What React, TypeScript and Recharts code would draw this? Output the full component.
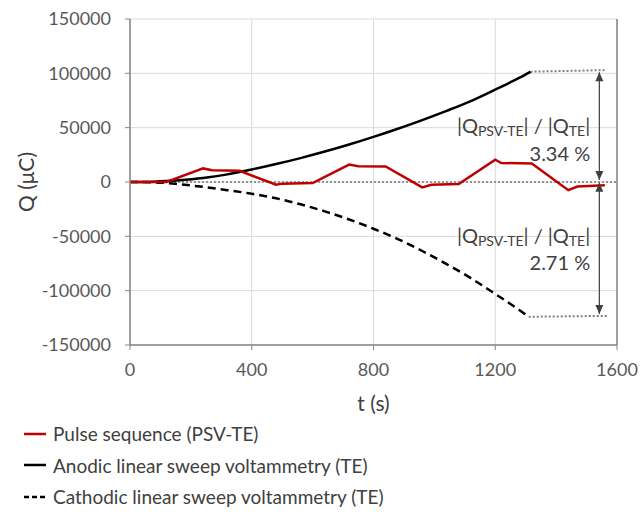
import React from "react";
import {
  LineChart,
  Line,
  XAxis,
  YAxis,
  CartesianGrid,
  ReferenceLine,
  ReferenceDot,
  Legend,
} from "recharts";

// Pulse sequence (PSV-TE)
const pulseT = [0, 120, 240, 270, 360, 480, 500, 600, 720, 750, 840, 960, 990, 1080, 1200, 1220, 1320, 1440, 1470, 1560];
const pulseQ = [0, 0, 12500, 10800, 10300, -2500, -1500, -1000, 16000, 14500, 14300, -5000, -2500, -1800, 20500, 17500, 17000, -7500, -4200, -3000];

// Anodic LSV (TE)
const anodicT = [0, 80, 160, 240, 320, 400, 480, 560, 640, 720, 800, 880, 960, 1040, 1120, 1200, 1280, 1316];
const anodicQ = [0, 300, 1500, 3600, 7000, 11500, 16500, 22000, 28000, 34500, 41500, 49000, 57000, 65500, 74500, 85000, 96000, 101500];

// Cathodic LSV (TE)
const cathodicT = [0, 80, 160, 240, 320, 400, 480, 560, 640, 720, 800, 880, 960, 1040, 1120, 1200, 1280, 1310];
const cathodicQ = [0, -300, -2000, -4500, -7500, -10800, -15000, -20500, -27000, -34500, -43000, -52500, -63500, -75500, -88500, -103000, -118000, -124000];

// gray dotted extensions of the end values
const anodicExtT = [1316, 1565];
const anodicExtQ = [101500, 103000];
const cathodicExtT = [1310, 1570];
const cathodicExtQ = [-124000, -123200];

// double arrows (t, from, to)
const arrowT = 1542;
const upperArrowQ = [101000, 1800];
const lowerArrowQ = [-600, -121500];

// ratio annotations
const ratioT = 1512;
const ratioTitleQ = [45000, -56500];
const ratioValueQ = [19000, -81000];
const ratioValues = ["3.34 %", "2.71 %"];

const xTicks = [0, 400, 800, 1200, 1600];
const yTicks = [-150000, -100000, -50000, 0, 50000, 100000, 150000];

const legendLabels = [
  "Pulse sequence (PSV-TE)",
  "Anodic linear sweep voltammetry (TE)",
  "Cathodic linear sweep voltammetry (TE)",
];
const legendColors = ["#c00000", "#000000", "#000000"];
const legendDash = ["", "", "5 3"];

const toPoints = (ts: number[], qs: number[]) => ts.map((t, i) => ({ t, q: qs[i] }));

const pulseData = toPoints(pulseT, pulseQ);
const anodicData = toPoints(anodicT, anodicQ);
const cathodicData = toPoints(cathodicT, cathodicQ);
const anodicExt = toPoints(anodicExtT, anodicExtQ);
const cathodicExt = toPoints(cathodicExtT, cathodicExtQ);
const upperArrow = [
  { t: arrowT, q: upperArrowQ[0], dir: "up" },
  { t: arrowT, q: upperArrowQ[1], dir: "down" },
];
const lowerArrow = [
  { t: arrowT, q: lowerArrowQ[0], dir: "up" },
  { t: arrowT, q: lowerArrowQ[1], dir: "down" },
];

const TEXT = "#404040";
const TICK = "#595959";
const FONT = "Lato, 'Noto Sans', sans-serif";

// triangle heads for the arrows
const ArrowHead = (props: any) => {
  const { cx, cy, payload, index } = props;
  if (cx == null || cy == null) return <g key={index} />;
  const h = 9;
  const w = 4;
  const d =
    payload.dir === "up"
      ? `M${cx},${cy} L${cx - w},${cy + h} L${cx + w},${cy + h} Z`
      : `M${cx},${cy} L${cx - w},${cy - h} L${cx + w},${cy - h} Z`;
  return <path key={index} d={d} fill="#404040" stroke="none" />;
};

const RatioTitle = (props: any) => {
  const { cx, cy } = props;
  return (
    <text x={cx} y={cy} textAnchor="end" fontSize={20} fill={TEXT} fontFamily={FONT}>
      |Q
      <tspan fontSize={14} dy={3}>PSV-TE</tspan>
      <tspan dy={-3}>| / |Q</tspan>
      <tspan fontSize={14} dy={3}>TE</tspan>
      <tspan dy={-3}>|</tspan>
    </text>
  );
};

const makeRatioValue = (txt: string) => (props: any) => (
  <text x={props.cx} y={props.cy} textAnchor="end" fontSize={20} fill={TEXT} fontFamily={FONT}>
    {txt}
  </text>
);

const YTitle = (props: any) => {
  const vb = props.viewBox;
  const x = 25;
  const y = vb.y + vb.height / 2;
  return (
    <text
      x={x}
      y={y}
      transform={`rotate(-90 ${x} ${y})`}
      textAnchor="middle"
      dominantBaseline="central"
      fontSize={21}
      fill={TEXT}
      fontFamily={FONT}
    >
      Q (μC)
    </text>
  );
};

const XTitle = (props: any) => {
  const vb = props.viewBox;
  return (
    <text
      x={vb.x + vb.width / 2}
      y={vb.y + 66}
      textAnchor="middle"
      fontSize={21}
      fill={TEXT}
      fontFamily={FONT}
    >
      t (s)
    </text>
  );
};

const LegendBox = () => (
  <div style={{ fontFamily: FONT, fontSize: 19, color: TEXT }}>
    {legendLabels.map((label, i) => (
      <div key={label} style={{ display: "flex", alignItems: "center", height: 31.5 }}>
        <svg width={26} height={10} style={{ marginRight: 5 }}>
          <line
            x1={2}
            y1={5}
            x2={24}
            y2={5}
            stroke={legendColors[i]}
            strokeWidth={2.5}
            strokeDasharray={legendDash[i] || undefined}
          />
        </svg>
        <span>{label}</span>
      </div>
    ))}
  </div>
);

export default function App() {
  return (
    <div style={{ position: "absolute", left: 0, top: 0, width: 641, height: 512, background: "#fff" }}>
      <LineChart
        width={641}
        height={512}
        margin={{ top: 19, right: 24, left: 0, bottom: 107 }}
        style={{ fontFamily: FONT }}
      >
        <CartesianGrid stroke="#d9d9d9" strokeWidth={1} />
        <XAxis
          type="number"
          dataKey="t"
          domain={[0, 1600]}
          ticks={xTicks}
          height={60}
          tickSize={5}
          tickMargin={13}
          axisLine={{ stroke: "#868686", strokeWidth: 1.5 }}
          tickLine={{ stroke: "#868686" }}
          tick={{ fill: TICK, fontSize: 18 }}
          allowDataOverflow
          label={<XTitle />}
        />
        <YAxis
          type="number"
          dataKey="q"
          domain={[-150000, 150000]}
          ticks={yTicks}
          width={130}
          tickSize={5}
          tickMargin={14}
          axisLine={{ stroke: "#868686", strokeWidth: 1.5 }}
          tickLine={{ stroke: "#868686" }}
          tick={{ fill: TICK, fontSize: 18 }}
          allowDataOverflow
          label={<YTitle />}
        />
        <ReferenceLine x={1600} stroke="#868686" strokeWidth={1.5} />
        <ReferenceLine y={0} stroke="#404040" strokeWidth={1} strokeDasharray="2 2" />
        <Line
          data={anodicExt}
          dataKey="q"
          stroke="#7f7f7f"
          strokeWidth={2}
          strokeDasharray="2 2"
          dot={false}
          legendType="none"
          isAnimationActive={false}
        />
        <Line
          data={cathodicExt}
          dataKey="q"
          stroke="#7f7f7f"
          strokeWidth={2}
          strokeDasharray="2 2"
          dot={false}
          legendType="none"
          isAnimationActive={false}
        />
        <Line
          data={anodicData}
          dataKey="q"
          name={legendLabels[1]}
          type="monotone"
          stroke="#000"
          strokeWidth={2.5}
          dot={false}
          isAnimationActive={false}
        />
        <Line
          data={cathodicData}
          dataKey="q"
          name={legendLabels[2]}
          type="monotone"
          stroke="#000"
          strokeWidth={2.5}
          strokeDasharray="8 5"
          dot={false}
          isAnimationActive={false}
        />
        <Line
          data={pulseData}
          dataKey="q"
          name={legendLabels[0]}
          type="linear"
          stroke="#c00000"
          strokeWidth={2.5}
          dot={false}
          isAnimationActive={false}
        />
        <Line
          data={upperArrow}
          dataKey="q"
          stroke="#404040"
          strokeWidth={1.2}
          dot={ArrowHead}
          legendType="none"
          isAnimationActive={false}
        />
        <Line
          data={lowerArrow}
          dataKey="q"
          stroke="#404040"
          strokeWidth={1.2}
          dot={ArrowHead}
          legendType="none"
          isAnimationActive={false}
        />
        {ratioTitleQ.map((q, i) => (
          <ReferenceDot key={"title" + i} x={ratioT} y={q} r={0} shape={RatioTitle} />
        ))}
        {ratioValueQ.map((q, i) => (
          <ReferenceDot key={"val" + i} x={ratioT} y={q} r={0} shape={makeRatioValue(ratioValues[i])} />
        ))}
        <Legend
          layout="vertical"
          align="center"
          verticalAlign="middle"
          content={<LegendBox />}
          wrapperStyle={{ position: "absolute", top: 418, left: 22, width: 420 }}
        />
      </LineChart>
    </div>
  );
}
